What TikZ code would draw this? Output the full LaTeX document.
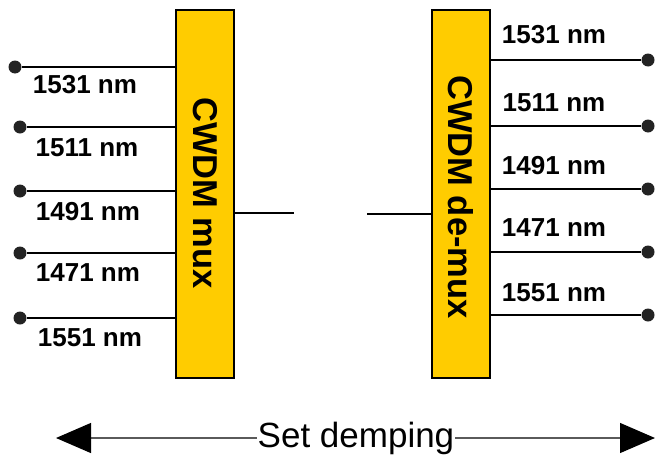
\documentclass[tikz,border=0pt]{standalone}
\usepackage{fontspec}
\setmainfont{Liberation Sans}
\usetikzlibrary{arrows.meta,positioning,calc}
\definecolor{Amber}{RGB}{255,204,0}
\definecolor{DotGray}{RGB}{35,35,35}
\definecolor{SpanGray}{RGB}{90,90,90}
\tikzset{
  muxbox/.style={draw=black,line width=2.5pt,fill=Amber,minimum width=58pt,minimum height=368pt,inner sep=0pt},
  muxtext/.style={rotate=-90,font=\fontsize{34.5}{40}\selectfont\bfseries},
  port/.style={circle,fill=DotGray,draw=none,minimum size=13pt,inner sep=0pt},
  fibre/.style={draw=black,line width=2.5pt},
  wavelabel/.style={font=\fontsize{26}{30}\selectfont\bfseries,inner sep=0pt},
  spanlabel/.style={font=\fontsize{35}{40}\selectfont,inner sep=1pt},
  spanarrow/.style={draw=SpanGray,line width=1.2pt,-{Triangle[length=35pt,width=30pt,color=black]}}
}
\begin{document}
\begin{tikzpicture}[x=1pt,y=-1pt]
\useasboundingbox (0,0) rectangle (655,458);

\node[muxbox] (mux) at (205,194) {};
\node[muxbox] (demux) at (461,194) {};
\node[muxtext] at (205,193) {CWDM mux};
\node[muxtext] at (461,197) {CWDM de-mux};

% inputs on the left
\node[port] (in1) at (15,67) {};
\node[port] (in2) at (20,127) {};
\node[port] (in3) at (20,191) {};
\node[port] (in4) at (20,253) {};
\node[port] (in5) at (20,318) {};
\draw[fibre](in1)--(in1 -| mux.west);\draw[fibre](in2)--(in2 -| mux.west);\draw[fibre](in3)--(in3 -| mux.west);\draw[fibre](in4)--(in4 -| mux.west);\draw[fibre](in5)--(in5 -| mux.west);
\node[wavelabel] at (85,85) {1531 nm};
\node[wavelabel] at (87,148) {1511 nm};
\node[wavelabel] at (88,212) {1491 nm};
\node[wavelabel] at (88,273) {1471 nm};
\node[wavelabel] at (90,338) {1551 nm};

% outputs on the right
\node[port] (out1) at (648,60) {};
\node[port] (out2) at (648,126) {};
\node[port] (out3) at (648,189) {};
\node[port] (out4) at (648,252) {};
\node[port] (out5) at (648,315) {};
\draw[fibre](out1 -| demux.east)--(out1);\draw[fibre](out2 -| demux.east)--(out2);\draw[fibre](out3 -| demux.east)--(out3);\draw[fibre](out4 -| demux.east)--(out4);\draw[fibre](out5 -| demux.east)--(out5);
\node[wavelabel] at (554,35) {1531 nm};
\node[wavelabel] at (554,103) {1511 nm};
\node[wavelabel] at (554,166) {1491 nm};
\node[wavelabel] at (554,228) {1471 nm};
\node[wavelabel] at (554,293) {1551 nm};

% link between the two
\coordinate (gapL) at (294,213);
\coordinate (gapR) at (367,214);
\draw[fibre](mux.east |- gapL)--(gapL);
\draw[fibre](gapR)--(gapR -| demux.west);

% span
\coordinate (spanL) at (56,438);
\coordinate (spanR) at (655,438);
\node[spanlabel] (span) at (356,438) {Set demping};
\draw[spanarrow](span.west)--(spanL);
\draw[spanarrow](span.east)--(spanR);
\end{tikzpicture}
\end{document}
